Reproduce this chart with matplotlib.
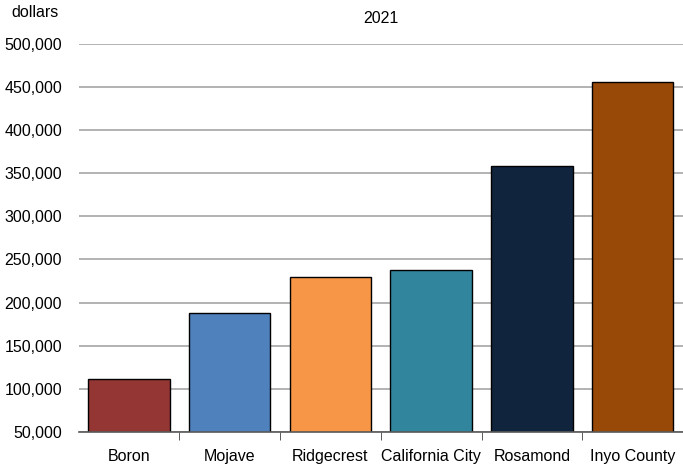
import matplotlib.pyplot as plt
import numpy as np

plt.rcParams['font.family'] = ['Liberation Sans', 'DejaVu Sans']

places = ['Boron', 'Mojave', 'Ridgecrest', 'California City', 'Rosamond', 'Inyo County']
values = [111000, 188400, 229400, 238000, 358500, 455400]
colors = ['#943634', '#4F81BD', '#F79646', '#31859C', '#10243E', '#984807']

fig = plt.figure(figsize=(6.83, 4.66), dpi=100)
ax = fig.add_axes([0.115, 0.073, 0.885, 0.833])

x = np.arange(len(places))
ax.bar(x, values, width=0.81, color=colors, edgecolor='black', linewidth=1, zorder=3)

ax.set_ylim(50000, 500000)
ax.set_xlim(-0.5, len(places) - 0.5)
ax.set_yticks(np.arange(50000, 500001, 50000))
ax.yaxis.set_major_formatter(plt.FuncFormatter(lambda v, p: f'{int(v):,}'))
ax.grid(axis='y', color='#a6a6a6', linewidth=1.2, zorder=0)

ax.set_xticks(x)
ax.set_xticklabels(places)
ax.set_xticks(np.arange(0.5, len(places) - 1, 1), minor=True)
ax.tick_params(axis='x', which='major', length=0, pad=12, labelsize=11.5)
ax.tick_params(axis='x', which='minor', length=6, color='#404040')
ax.tick_params(axis='y', length=0, pad=12, labelsize=11.5)

for s in ['left', 'right', 'top']:
    ax.spines[s].set_visible(False)
ax.spines['bottom'].set_color('#595959')
ax.spines['bottom'].set_linewidth(1.2)
ax.spines['bottom'].set_zorder(4)

ax.set_title('2021', fontsize=11.5, pad=15)
fig.text(0.017, 0.99, 'dollars', fontsize=11.5, va='top', ha='left')

fig.savefig('out.png', dpi=100)
